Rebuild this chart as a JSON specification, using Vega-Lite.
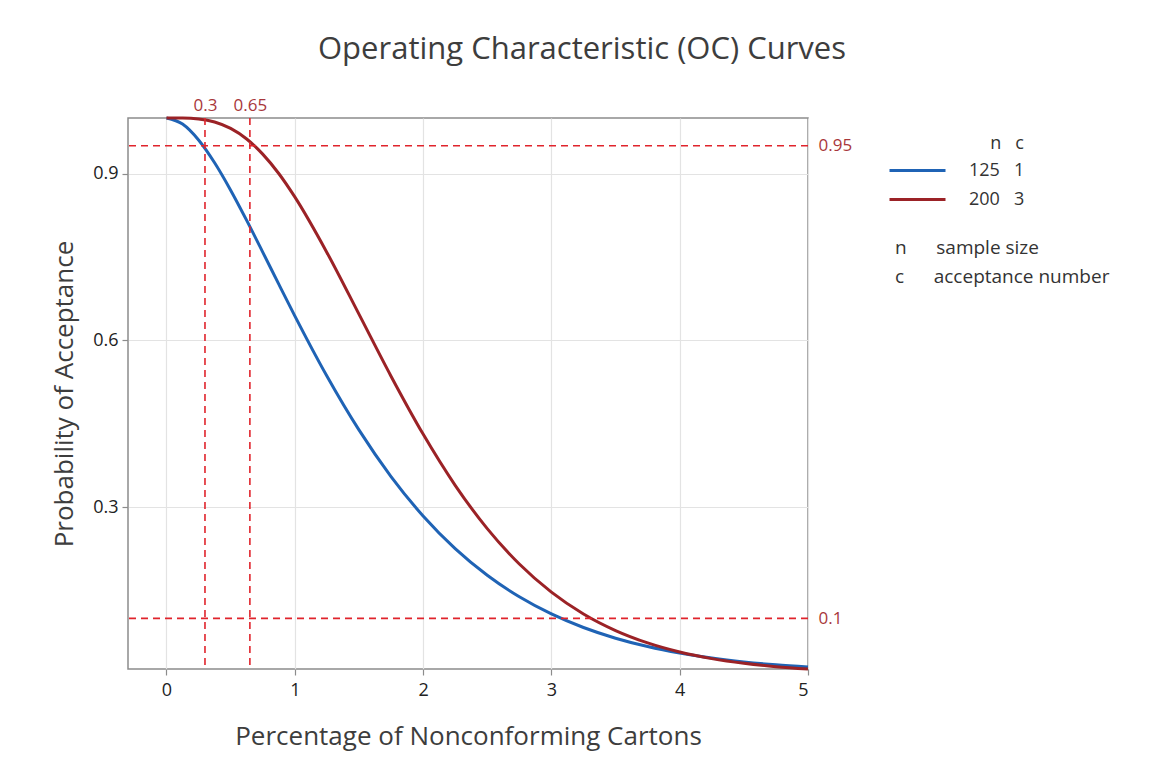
{
  "$schema": "https://vega.github.io/schema/vega-lite/v6.json",
  "width": 680,
  "height": 551,
  "autosize": {"type": "none"},
  "padding": {"left": 128, "top": 118, "right": 342, "bottom": 98},
  "background": "white",
  "config": {
    "font": "Open Sans",
    "view": {"stroke": "#8c8c8c", "strokeWidth": 1.5},
    "axis": {"labelFont": "Open Sans", "titleFont": "Open Sans"},
    "legend": {"labelFont": "Open Sans", "titleFont": "Open Sans"}
  },
  "title": {
    "text": "Operating Characteristic (OC) Curves",
    "fontSize": 31,
    "fontWeight": "normal",
    "color": "#3d3d3d",
    "anchor": "middle",
    "dx": 114,
    "offset": 30
  },
  "datasets": {
    "curves": [
      {"p": 0, "prob": 1, "plan": "125\u00a0\u00a0\u00a01"},
      {"p": 0.125, "prob": 0.98906, "plan": "125\u00a0\u00a0\u00a01"},
      {"p": 0.25, "prob": 0.96045, "plan": "125\u00a0\u00a0\u00a01"},
      {"p": 0.375, "prob": 0.91942, "plan": "125\u00a0\u00a0\u00a01"},
      {"p": 0.5, "prob": 0.87012, "plan": "125\u00a0\u00a0\u00a01"},
      {"p": 0.625, "prob": 0.81577, "plan": "125\u00a0\u00a0\u00a01"},
      {"p": 0.75, "prob": 0.75882, "plan": "125\u00a0\u00a0\u00a01"},
      {"p": 0.875, "prob": 0.70117, "plan": "125\u00a0\u00a0\u00a01"},
      {"p": 1, "prob": 0.64419, "plan": "125\u00a0\u00a0\u00a01"},
      {"p": 1.25, "prob": 0.53597, "plan": "125\u00a0\u00a0\u00a01"},
      {"p": 1.5, "prob": 0.439, "plan": "125\u00a0\u00a0\u00a01"},
      {"p": 1.75, "prob": 0.35506, "plan": "125\u00a0\u00a0\u00a01"},
      {"p": 2, "prob": 0.28419, "plan": "125\u00a0\u00a0\u00a01"},
      {"p": 2.25, "prob": 0.22549, "plan": "125\u00a0\u00a0\u00a01"},
      {"p": 2.5, "prob": 0.17756, "plan": "125\u00a0\u00a0\u00a01"},
      {"p": 2.75, "prob": 0.13892, "plan": "125\u00a0\u00a0\u00a01"},
      {"p": 3, "prob": 0.10805, "plan": "125\u00a0\u00a0\u00a01"},
      {"p": 3.25, "prob": 0.08362, "plan": "125\u00a0\u00a0\u00a01"},
      {"p": 3.5, "prob": 0.0644, "plan": "125\u00a0\u00a0\u00a01"},
      {"p": 3.75, "prob": 0.0494, "plan": "125\u00a0\u00a0\u00a01"},
      {"p": 4, "prob": 0.03775, "plan": "125\u00a0\u00a0\u00a01"},
      {"p": 4.25, "prob": 0.02874, "plan": "125\u00a0\u00a0\u00a01"},
      {"p": 4.5, "prob": 0.02181, "plan": "125\u00a0\u00a0\u00a01"},
      {"p": 4.75, "prob": 0.0165, "plan": "125\u00a0\u00a0\u00a01"},
      {"p": 5, "prob": 0.01245, "plan": "125\u00a0\u00a0\u00a01"},
      {"p": 0, "prob": 1, "plan": "200\u00a0\u00a0\u00a03"},
      {"p": 0.125, "prob": 0.9999, "plan": "200\u00a0\u00a0\u00a03"},
      {"p": 0.25, "prob": 0.9983, "plan": "200\u00a0\u00a0\u00a03"},
      {"p": 0.375, "prob": 0.9929, "plan": "200\u00a0\u00a0\u00a03"},
      {"p": 0.5, "prob": 0.98132, "plan": "200\u00a0\u00a0\u00a03"},
      {"p": 0.625, "prob": 0.9623, "plan": "200\u00a0\u00a0\u00a03"},
      {"p": 0.75, "prob": 0.93506, "plan": "200\u00a0\u00a0\u00a03"},
      {"p": 0.875, "prob": 0.9002, "plan": "200\u00a0\u00a0\u00a03"},
      {"p": 1, "prob": 0.85804, "plan": "200\u00a0\u00a0\u00a03"},
      {"p": 1.25, "prob": 0.75825, "plan": "200\u00a0\u00a0\u00a03"},
      {"p": 1.5, "prob": 0.64724, "plan": "200\u00a0\u00a0\u00a03"},
      {"p": 1.75, "prob": 0.53567, "plan": "200\u00a0\u00a0\u00a03"},
      {"p": 2, "prob": 0.4315, "plan": "200\u00a0\u00a0\u00a03"},
      {"p": 2.25, "prob": 0.33941, "plan": "200\u00a0\u00a0\u00a03"},
      {"p": 2.5, "prob": 0.26147, "plan": "200\u00a0\u00a0\u00a03"},
      {"p": 2.75, "prob": 0.19776, "plan": "200\u00a0\u00a0\u00a03"},
      {"p": 3, "prob": 0.14716, "plan": "200\u00a0\u00a0\u00a03"},
      {"p": 3.25, "prob": 0.10791, "plan": "200\u00a0\u00a0\u00a03"},
      {"p": 3.5, "prob": 0.0781, "plan": "200\u00a0\u00a0\u00a03"},
      {"p": 3.75, "prob": 0.05586, "plan": "200\u00a0\u00a0\u00a03"},
      {"p": 4, "prob": 0.03953, "plan": "200\u00a0\u00a0\u00a03"},
      {"p": 4.25, "prob": 0.0277, "plan": "200\u00a0\u00a0\u00a03"},
      {"p": 4.5, "prob": 0.01923, "plan": "200\u00a0\u00a0\u00a03"},
      {"p": 4.75, "prob": 0.01324, "plan": "200\u00a0\u00a0\u00a03"},
      {"p": 5, "prob": 0.00905, "plan": "200\u00a0\u00a0\u00a03"}
    ],
    "vrefs": [{"x": 0.3}, {"x": 0.65}],
    "hrefs": [{"y": 0.95}, {"y": 0.1}],
    "notes": [
      {"desc": "n\u00a0\u00a0\u00a0\u00a0\u00a0\u00a0sample size"},
      {"desc": "c\u00a0\u00a0\u00a0\u00a0\u00a0\u00a0acceptance number"}
    ]
  },
  "resolve": {"axis": {"x": "independent", "y": "independent"}},
  "layer": [
    {
      "data": {"name": "curves"},
      "mark": {"type": "line", "strokeWidth": 3, "interpolate": "monotone"},
      "encoding": {
        "x": {
          "field": "p",
          "type": "quantitative",
          "scale": {"domain": [-0.3, 5], "nice": false, "zero": false},
          "axis": {
            "title": "Percentage of Nonconforming Cartons",
            "values": [0, 1, 2, 3, 4, 5],
            "format": "d",
            "domain": false,
            "grid": true,
            "gridColor": "#e3e3e3",
            "gridWidth": 1.2,
            "tickColor": "#8c8c8c",
            "tickSize": 6,
            "tickWidth": 1.2,
            "labelFontSize": 18,
            "labelColor": "#222222",
            "labelPadding": 6,
            "titleFontSize": 26,
            "titleFontWeight": "normal",
            "titleColor": "#3d3d3d",
            "titlePadding": 24
          }
        },
        "y": {
          "field": "prob",
          "type": "quantitative",
          "scale": {"domain": [0.009, 1.0], "nice": false, "zero": false},
          "axis": {
            "title": "Probability of Acceptance",
            "values": [0.3, 0.6, 0.9],
            "format": ".1f",
            "domain": false,
            "grid": true,
            "gridColor": "#e3e3e3",
            "gridWidth": 1.2,
            "tickColor": "#8c8c8c",
            "tickSize": 6,
            "tickWidth": 1.2,
            "labelFontSize": 18,
            "labelColor": "#222222",
            "labelPadding": 4,
            "titleFontSize": 26,
            "titleFontWeight": "normal",
            "titleColor": "#3d3d3d",
            "titlePadding": 15
          }
        },
        "color": {
          "field": "plan",
          "type": "nominal",
          "scale": {"domain": ["125\u00a0\u00a0\u00a01", "200\u00a0\u00a0\u00a03"], "range": ["#1f63b5", "#9b2226"]},
          "legend": {
            "title": "n\u00a0\u00a0\u00a0c",
            "orient": "none",
            "legendX": 778,
            "legendY": 17,
            "titleAnchor": "end",
            "titleFontSize": 18,
            "titleFontWeight": "normal",
            "titleColor": "#333333",
            "titlePadding": 6,
            "labelFontSize": 18,
            "labelColor": "#333333",
            "labelOffset": 40,
            "labelLimit": 300,
            "symbolType": "M-2.8,0H2.8",
            "symbolStrokeWidth": 3,
            "symbolSize": 400,
            "rowPadding": 8
          }
        }
      }
    },
    {
      "data": {"name": "vrefs"},
      "mark": {"type": "rule", "color": "#e0242c", "strokeWidth": 1.6, "strokeDash": [7, 5]},
      "encoding": {
        "x": {
          "field": "x",
          "type": "quantitative",
          "axis": {
            "orient": "top",
            "title": null,
            "values": [0.3, 0.65],
            "format": ".2~f",
            "domain": false,
            "ticks": false,
            "grid": false,
            "labelOverlap": false,
            "labelFontSize": 17,
            "labelColor": "#a8373b",
            "labelPadding": 4
          }
        }
      }
    },
    {
      "data": {"name": "hrefs"},
      "mark": {"type": "rule", "color": "#e0242c", "strokeWidth": 1.6, "strokeDash": [7, 5]},
      "encoding": {
        "y": {
          "field": "y",
          "type": "quantitative",
          "axis": {
            "orient": "right",
            "title": null,
            "values": [0.95, 0.1],
            "format": ".2~f",
            "domain": false,
            "ticks": false,
            "grid": false,
            "labelOverlap": false,
            "labelFontSize": 17,
            "labelColor": "#a8373b",
            "labelPadding": 10
          }
        }
      }
    },
    {
      "data": {"name": "notes"},
      "mark": {"type": "point", "opacity": 0},
      "encoding": {
        "shape": {
          "field": "desc",
          "type": "nominal",
          "scale": {"domain": ["n\u00a0\u00a0\u00a0\u00a0\u00a0\u00a0sample size", "c\u00a0\u00a0\u00a0\u00a0\u00a0\u00a0acceptance number"]},
          "legend": {
            "title": null,
            "orient": "none",
            "legendX": 748,
            "legendY": 120,
            "symbolSize": 0,
            "symbolOpacity": 0,
            "labelOffset": 0,
            "labelFontSize": 19,
            "labelColor": "#333333",
            "labelLimit": 400,
            "rowPadding": 9
          }
        }
      }
    }
  ]
}
